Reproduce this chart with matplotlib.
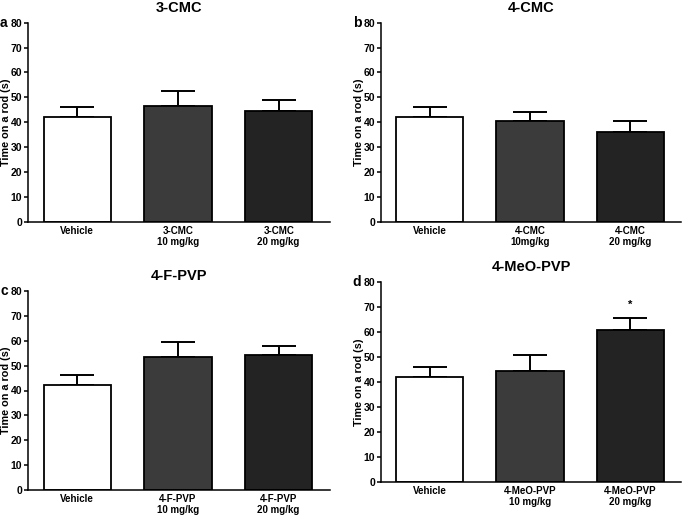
import numpy as np
import matplotlib
matplotlib.use('Agg')
import matplotlib.pyplot as plt

plt.rcParams['font.family'] = ['Liberation Sans', 'DejaVu Sans']
plt.rcParams['font.weight'] = 'bold'

# Data (mean and upper SEM)
titles = ['3-CMC', '4-CMC', '4-F-PVP', '4-MeO-PVP']
letters = ['a', 'b', 'c', 'd']
tick_labels = [
    ['Vehicle', '3-CMC\n10 mg/kg', '3-CMC\n20 mg/kg'],
    ['Vehicle', '4-CMC\n10mg/kg', '4-CMC\n20 mg/kg'],
    ['Vehicle', '4-F-PVP\n10 mg/kg', '4-F-PVP\n20 mg/kg'],
    ['Vehicle', '4-MeO-PVP\n10 mg/kg', '4-MeO-PVP\n20 mg/kg'],
]
means_3cmc = [42.2, 46.7, 44.7]
sem_3cmc = [4.0, 5.8, 4.3]
means_4cmc = [42.2, 40.6, 36.1]
sem_4cmc = [4.0, 3.6, 4.5]
means_4fpvp = [42.2, 53.3, 54.1]
sem_4fpvp = [4.0, 6.1, 3.9]
means_4meo = [42.2, 44.4, 60.8]
sem_4meo = [4.0, 6.4, 5.1]
all_means = [means_3cmc, means_4cmc, means_4fpvp, means_4meo]
all_sems = [sem_3cmc, sem_4cmc, sem_4fpvp, sem_4meo]
stars = [None, None, None, 2]  # bar index marked with *

bar_colors = ['white', '#3b3b3b', '#232323']

W, H = 682, 516
fig = plt.figure(figsize=(W / 100, H / 100), dpi=100)

# axes boxes in pixels: left, right, top, bottom
boxes = [
    (28, 330, 22.7, 221.7),
    (381, 681, 22.7, 221.7),
    (28, 330, 290.7, 490.3),
    (381, 681, 282.3, 482.3),
]

for i in range(4):
    l, r, t, b = boxes[i]
    ax = fig.add_axes([l / W, 1 - b / H, (r - l) / W, (b - t) / H])
    x = np.arange(3)
    ax.bar(x, all_means[i], width=0.67, color=bar_colors, edgecolor='black',
           linewidth=1.3, zorder=2)
    ax.errorbar(x, all_means[i], yerr=[[0, 0, 0], all_sems[i]], fmt='none',
                ecolor='black', elinewidth=1.4, capsize=12, capthick=1.4, zorder=1)
    if stars[i] is not None:
        j = stars[i]
        ax.text(j, all_means[i][j] + all_sems[i][j] + 3, '*', ha='center',
                va='bottom', fontsize=8, fontweight='bold')
    ax.set_xlim(-0.49, 2.51)
    ax.set_ylim(0, 80)
    ax.set_yticks(np.arange(0, 81, 10))
    ax.set_xticks(x)
    ax.set_xticklabels(tick_labels[i], fontsize=7, fontweight='bold',
                       linespacing=1.1)
    ax.tick_params(axis='x', length=0, pad=3)
    ax.tick_params(axis='y', length=3, width=1.1, labelsize=7.5, pad=1.2)
    for lab in ax.get_yticklabels():
        lab.set_fontweight('bold')
    ax.spines['top'].set_visible(False)
    ax.spines['right'].set_visible(False)
    ax.spines['left'].set_linewidth(1.1)
    ax.spines['bottom'].set_linewidth(1.1)
    ax.set_ylabel('Time on a rod (s)', fontsize=7.8, fontweight='bold')
    ax.yaxis.set_label_coords(-22 / (r - l), 0.5)
    ax.yaxis.label.set_verticalalignment('center')
    ax.set_title(titles[i], fontsize=10.5, fontweight='bold', pad=8)
    ax.text(-0.08, 1.0, letters[i], transform=ax.transAxes, fontsize=10,
            fontweight='bold', ha='center', va='center')

fig.savefig('out.png', dpi=100)
